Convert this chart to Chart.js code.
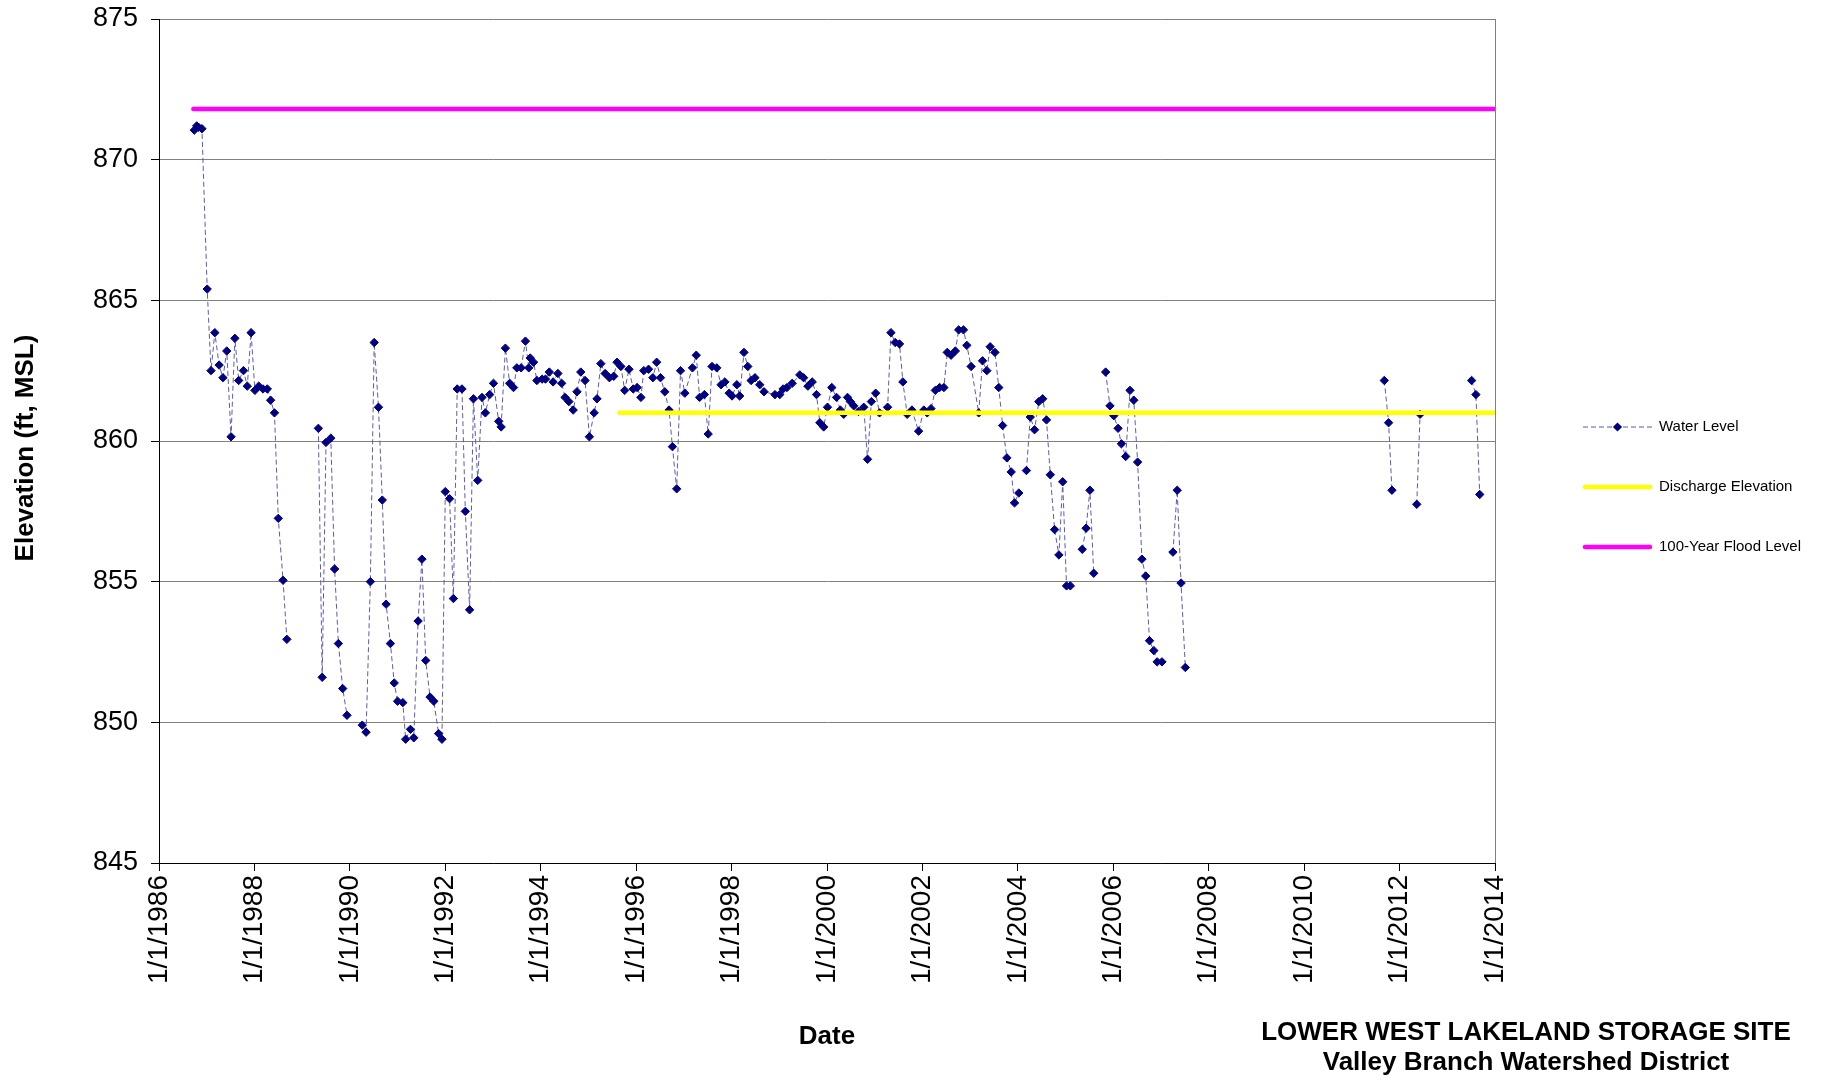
<!DOCTYPE html>
<html>
<head>
<meta charset="utf-8">
<script src="https://cdn.jsdelivr.net/npm/chart.js@4.4.1/dist/chart.umd.min.js"></script>
<style>
html,body{margin:0;padding:0;background:#ffffff;}
#wrap{position:relative;width:1826px;height:1081px;}
</style>
</head>
<body>
<div id="wrap"><canvas id="c" width="1826" height="1081"></canvas></div>
<script>
// ---- Data (dates as decimal years; null marks a break in the record) ----
const waterDates = [
1986.74,1986.79,1986.83,1986.90,1987.01,1987.09,1987.17,1987.26,1987.34,1987.42,1987.51,1987.59,1987.67,1987.77,1987.85,1987.93,
1988.01,1988.09,1988.18,1988.27,1988.34,1988.42,1988.50,1988.60,1988.68,null,
1989.34,1989.42,1989.50,1989.60,1989.68,1989.76,1989.85,1989.94,null,
1990.26,1990.34,1990.43,1990.51,1990.60,1990.68,1990.76,1990.85,1990.93,1991.00,1991.11,1991.17,1991.27,1991.34,1991.43,1991.51,
1991.59,1991.68,1991.76,1991.86,1991.93,1992.00,1992.09,1992.17,1992.25,1992.35,1992.42,1992.51,1992.59,1992.68,1992.77,1992.84,
1992.93,1993.01,1993.12,1993.17,1993.26,1993.35,1993.43,1993.50,1993.59,1993.68,1993.75,1993.78,1993.85,1993.92,1994.03,1994.10,
1994.18,1994.26,1994.36,1994.44,1994.51,1994.59,1994.68,1994.76,1994.84,1994.93,1995.02,1995.12,1995.18,1995.26,1995.35,1995.44,
1995.53,1995.60,1995.68,1995.76,1995.85,1995.94,1996.02,1996.10,1996.16,1996.26,1996.35,1996.43,1996.51,1996.60,1996.69,1996.76,
1996.85,1996.93,1997.02,1997.18,1997.26,1997.33,1997.43,1997.51,1997.59,1997.69,1997.78,1997.86,1997.95,1998.01,1998.11,1998.17,
1998.26,1998.34,1998.41,1998.49,1998.59,1998.68,1998.91,1999.01,1999.08,1999.16,1999.27,1999.43,1999.51,1999.60,1999.69,1999.78,
1999.85,1999.93,2000.01,2000.10,2000.20,2000.28,2000.35,2000.43,2000.49,2000.56,2000.66,2000.77,2000.85,2000.93,2001.02,2001.10,
2001.27,2001.34,2001.43,2001.52,2001.59,2001.68,2001.78,2001.92,2002.03,2002.10,2002.18,2002.27,2002.36,2002.45,2002.52,2002.60,
2002.69,2002.76,2002.86,2002.93,2003.02,2003.18,2003.26,2003.35,2003.42,2003.52,2003.60,2003.68,2003.77,2003.86,2003.93,2004.02,null,
2004.18,2004.26,2004.35,2004.44,2004.52,2004.60,2004.68,2004.77,2004.86,2004.94,2005.02,2005.10,null,
2005.35,2005.43,2005.51,2005.59,null,
2005.84,2005.93,2006.01,2006.10,2006.17,2006.26,2006.35,2006.43,2006.51,2006.60,2006.68,2006.76,2006.85,2006.92,2007.02,null,
2007.25,2007.34,2007.42,2007.51,null,
2011.68,2011.77,2011.84,null,
2012.36,2012.43,null,
2013.51,2013.60,2013.68
];
const waterLevels = [
871.05,871.2,871.15,871.1,865.4,862.5,863.85,862.7,862.25,863.2,860.15,863.65,862.15,862.5,861.95,863.85,
861.8,861.95,861.85,861.85,861.45,861.0,857.25,855.05,852.95,null,
860.45,851.6,859.95,860.1,855.45,852.8,851.2,850.25,null,
849.9,849.65,855.0,863.5,861.2,857.9,854.2,852.8,851.4,850.75,850.7,849.4,849.75,849.45,853.6,855.8,
852.2,850.9,850.75,849.6,849.4,858.2,857.95,854.4,861.85,861.85,857.5,854.0,861.5,858.6,861.55,861.0,
861.65,862.05,860.7,860.5,863.3,862.05,861.9,862.6,862.6,863.55,862.6,862.95,862.8,862.15,862.2,862.2,
862.45,862.1,862.4,862.05,861.55,861.4,861.1,861.75,862.45,862.15,860.15,861.0,861.5,862.75,862.4,862.25,
862.3,862.8,862.65,861.8,862.55,861.85,861.9,861.55,862.5,862.55,862.25,862.8,862.25,861.75,861.1,859.8,
858.3,862.5,861.7,862.6,863.05,861.55,861.65,860.25,862.65,862.6,862.0,862.1,861.7,861.6,862.0,861.6,
863.15,862.65,862.15,862.25,862.0,861.75,861.65,861.65,861.85,861.9,862.05,862.35,862.25,861.95,862.1,861.65,
860.65,860.5,861.2,861.9,861.55,861.1,860.95,861.55,861.4,861.25,861.05,861.2,859.35,861.4,861.7,861.0,
861.2,863.85,863.5,863.45,862.1,860.95,861.1,860.35,861.1,861.0,861.15,861.8,861.9,861.9,863.15,863.05,
863.2,863.95,863.95,863.4,862.65,861.0,862.85,862.5,863.35,863.15,861.9,860.55,859.4,858.9,857.8,858.15,null,
858.95,860.85,860.4,861.4,861.5,860.75,858.8,856.85,855.95,858.55,854.85,854.85,null,
856.15,856.9,858.25,855.3,null,
862.45,861.25,860.9,860.45,859.9,859.45,861.8,861.45,859.25,855.8,855.2,852.9,852.55,852.15,852.15,null,
856.05,858.25,854.95,851.95,null,
862.15,860.65,858.25,null,
857.75,860.95,null,
862.15,861.65,858.1
];
const dischargeDates = [1995.65, 2014];
const dischargeLevels = [861.0, 861.0];
const floodDates = [1986.72, 2014];
const floodLevels = [871.8, 871.8];

const xTickYears = [1986,1988,1990,1992,1994,1996,1998,2000,2002,2004,2006,2008,2010,2012,2014];
const xTickLabels = ['1/1/1986','1/1/1988','1/1/1990','1/1/1992','1/1/1994','1/1/1996','1/1/1998','1/1/2000',
                     '1/1/2002','1/1/2004','1/1/2006','1/1/2008','1/1/2010','1/1/2012','1/1/2014'];
const yTicks = [845,850,855,860,865,870,875];
const seriesNames = ['Water Level','Discharge Elevation','100-Year Flood Level'];
const titleLines = ['LOWER WEST LAKELAND STORAGE SITE','Valley Branch Watershed District'];
const yTitle = 'Elevation (ft, MSL)';
const xTitle = 'Date';

// ---- Build ----
const FONT = "'Liberation Sans', Arial, Helvetica, sans-serif";
const waterData = [];
let prev = null;
waterDates.forEach((d, i) => {
  const x = d === null ? prev : d;
  waterData.push({x: x, y: waterLevels[i]});
  if (d !== null) prev = d;
});
const pair = (xs, ys) => xs.map((x, i) => ({x: x, y: ys[i]}));

const WATER_LINE = '#5a5ab4';
const WATER_MARK = '#000080';

const extras = {
  id: 'extras',
  afterDraw(chart) {
    const ctx = chart.ctx;
    ctx.save();
    // y-axis title
    ctx.save();
    ctx.translate(25.6, 448);
    ctx.rotate(-Math.PI / 2);
    ctx.font = 'bold 26px ' + FONT;
    ctx.fillStyle = '#000';
    ctx.textAlign = 'center';
    ctx.textBaseline = 'middle';
    ctx.fillText(yTitle, 0, 0);
    ctx.restore();
    // legend
    const x1 = 1583, x2 = 1652, tx = 1659;
    const rows = [427, 487, 547];
    ctx.font = '15px ' + FONT;
    ctx.textBaseline = 'middle';
    ctx.textAlign = 'left';
    ctx.strokeStyle = WATER_LINE; ctx.lineWidth = 1; ctx.setLineDash([5,3]);
    ctx.beginPath(); ctx.moveTo(x1, rows[0]); ctx.lineTo(x2, rows[0]); ctx.stroke();
    ctx.setLineDash([]);
    const cx = (x1 + x2) / 2, r = 4.6;
    ctx.fillStyle = WATER_MARK;
    ctx.beginPath(); ctx.moveTo(cx, rows[0]-r); ctx.lineTo(cx+r, rows[0]); ctx.lineTo(cx, rows[0]+r); ctx.lineTo(cx-r, rows[0]); ctx.closePath(); ctx.fill();
    ctx.lineCap = 'round'; ctx.lineWidth = 4.5;
    ctx.strokeStyle = '#ffff00';
    ctx.beginPath(); ctx.moveTo(x1+2, rows[1]); ctx.lineTo(x2-2, rows[1]); ctx.stroke();
    ctx.strokeStyle = '#ff00ff';
    ctx.beginPath(); ctx.moveTo(x1+2, rows[2]); ctx.lineTo(x2-2, rows[2]); ctx.stroke();
    ctx.fillStyle = '#000';
    seriesNames.forEach((n, i) => ctx.fillText(n, tx, rows[i]));
    // site title
    ctx.font = 'bold 26px ' + FONT;
    ctx.textAlign = 'center';
    ctx.fillText(titleLines[0], 1526, 1033);
    ctx.fillText(titleLines[1], 1526, 1063);
    ctx.restore();
  }
};

new Chart(document.getElementById('c'), {
  type: 'line',
  data: {
    datasets: [
      {label: seriesNames[0], data: waterData, borderColor: WATER_LINE, borderWidth: 1, borderDash: [5,3],
       pointStyle: 'rectRot', pointRadius: 4.2, pointBackgroundColor: WATER_MARK, pointBorderColor: WATER_MARK,
       pointBorderWidth: 1, spanGaps: false, fill: false, tension: 0, order: 3},
      {label: seriesNames[1], data: pair(dischargeDates, dischargeLevels), borderColor: '#ffff00', borderWidth: 4.5,
       borderCapStyle: 'round', pointRadius: 0, fill: false, order: 2},
      {label: seriesNames[2], data: pair(floodDates, floodLevels), borderColor: '#ff00ff', borderWidth: 4.5,
       borderCapStyle: 'round', pointRadius: 0, fill: false, order: 1}
    ]
  },
  options: {
    responsive: false,
    animation: false,
    devicePixelRatio: 1,
    layout: {padding: {left: 0, right: 331, top: 19, bottom: 0}},
    plugins: {legend: {display: false}, tooltip: {enabled: false}, title: {display: false}},
    scales: {
      x: {
        type: 'linear', min: 1986, max: 2014,
        afterFit(s) { s.height = 218; s.paddingLeft = 0; s.paddingRight = 0; },
        afterBuildTicks(s) { s.ticks = xTickYears.map(v => ({value: v})); },
        ticks: {
          autoSkip: false, maxRotation: 90, minRotation: 90, padding: 4, color: '#000',
          font: {family: FONT, size: 28},
          callback: (v, i) => xTickLabels[i]
        },
        grid: {
          color: (c) => (c.index === xTickYears.length - 1 ? '#808080' : 'rgba(0,0,0,0)'),
          tickColor: '#000', tickLength: 8, drawTicks: true
        },
        border: {display: true, color: '#000', width: 1},
        title: {display: true, text: xTitle, color: '#000', font: {family: FONT, size: 26, weight: 'bold'},
                padding: {top: 0, bottom: 29}}
      },
      y: {
        type: 'linear', min: 845, max: 875,
        afterFit(s) { s.width = 159; s.paddingTop = 0; s.paddingBottom = 0; },
        afterBuildTicks(s) { s.ticks = yTicks.map(v => ({value: v})); },
        ticks: {color: '#000', padding: 13, font: {family: FONT, size: 27}},
        grid: {color: '#808080', tickColor: '#000', tickLength: 8},
        border: {display: true, color: '#000', width: 1},
        title: {display: false}
      }
    }
  },
  plugins: [extras]
});
</script>
</body>
</html>
